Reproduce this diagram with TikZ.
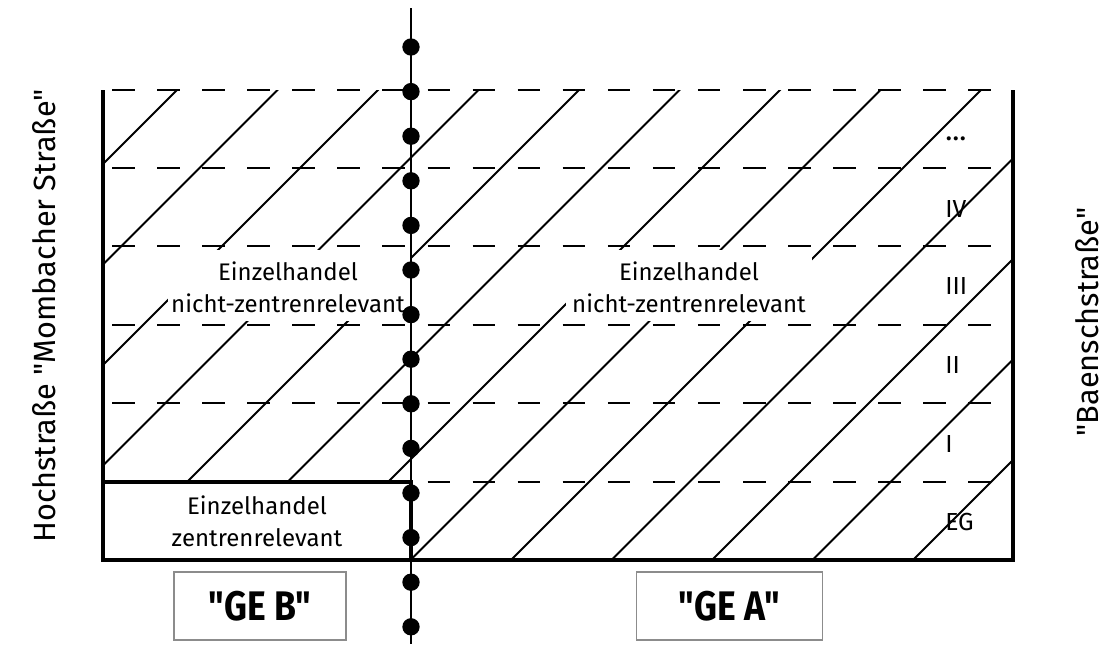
\documentclass[tikz,border=0pt]{standalone}
\usepackage{fontspec}
\setmainfont{Fira Sans}[Ligatures=TeXOff]
\newfontfamily\gefont{Fira Sans}[Ligatures=TeXOff, FakeStretch=0.86]
\begin{document}
\begin{tikzpicture}[x=0.75pt,y=-0.75pt,
  hatch/.style={line width=1.4pt},
  floorline/.style={line width=1.4pt, dash pattern=on 16.9pt off 16.9pt, dash phase=27pt},
  border/.style={line width=3.6pt, line join=miter},
  body/.style={font=\fontsize{18}{24}\selectfont, align=center, inner sep=0pt, anchor=base},
  floorlabel/.style={font=\fontsize{18.5}{24}\selectfont, inner sep=0pt, anchor=base west},
  street/.style={font=\fontsize{23}{28}\selectfont, inner sep=0pt, rotate=90},
  gebox/.style={draw=black!45, line width=0.8pt, font=\gefont\fontsize{31}{34}\bfseries\selectfont, inner sep=0pt, minimum height=51pt},
  dot/.style={fill=black}]
\useasboundingbox (0,0) rectangle (1107,644);
% hatching
\begin{scope}
  \clip (103,90) -- (1013,90) -- (1013,560) -- (411,560) -- (411,482) -- (103,482) -- cycle;
  \foreach \k in {0,...,12}{
    \pgfmathsetmacro\c{267+100.5*\k}
    \draw[hatch] (\c-50,50) -- (\c-620,620);
  }
\end{scope}
% gaps in the hatching behind the labels
\fill[white] (168,250) rectangle (410,321);
\fill[white] (566,250) rectangle (812,321);
% floor lines
\foreach \y in {90,168,246,325,403,482}{
  \draw[floorline] (103,\y) -- (1013,\y);
}
% outer borders
\draw[border] (103,90) -- (103,560) -- (1013,560) -- (1013,90);
\draw[border] (103,482) -- (411,482) -- (411,560);
% dotted boundary line
\coordinate (lineTop) at (411,8);
\coordinate (lineBot) at (411,644);
\draw[line width=1.8pt] (lineTop) -- (lineBot);
\foreach \i in {0,...,13}{
  \fill[dot] (411,47+44.6*\i) circle[radius=6.5pt];
}
% labels
\node[body] (ncl) at (288,312) {Einzelhandel\\nicht-zentrenrelevant};
\node[body] (ncr) at (689,312) {Einzelhandel\\nicht-zentrenrelevant};
\node[body] (zr) at (257,546) {Einzelhandel\\zentrenrelevant};
\node[floorlabel, font=\fontsize{22}{24}\selectfont] (f5) at (945,140) {...};
\node[floorlabel] (f4) at (945,217) {IV};
\node[floorlabel] (f3) at (945,294) {III};
\node[floorlabel] (f2) at (945,373) {II};
\node[floorlabel] (f1) at (945,452) {I};
\node[floorlabel] (f0) at (945,530) {EG};
\node[street] (west) at (44,316) {Hochstraße "Mombacher Straße"};
\node[street] (east) at (1087,322) {"Baenschstraße"};
\node[gebox, minimum width=129pt] (geb) at (260,606) {"GE B"};
\node[gebox, minimum width=139pt] (gea) at (729.5,606) {"GE A"};
\end{tikzpicture}
\end{document}
